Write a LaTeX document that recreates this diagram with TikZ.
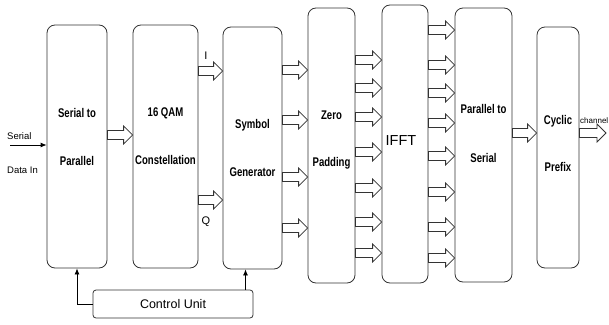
\documentclass[tikz,border=0pt]{standalone}
\usepackage{fontspec}
\setmainfont{Liberation Sans}
\newfontfamily\blockfont{Liberation Sans}[FakeStretch=0.76]
\usetikzlibrary{positioning, arrows.meta, calc}
\tikzset{
  block/.style={rectangle, rounded corners=8pt, draw=black!80, line width=0.8pt, inner sep=0pt},
  blocktext/.style={align=center, inner sep=0pt, font=\blockfont\bfseries\fontsize{12.6}{14}\selectfont},
  ctrl/.style={rectangle, rounded corners=3pt, draw=black!80, line width=0.8pt, font=\fontsize{12.5}{14}\selectfont},
  small/.style={font=\fontsize{9.5}{11}\selectfont, inner sep=1pt},
  hollow/.style={draw=black!80, line width=0.8pt, fill=white, line join=miter,
    to path={let \p1=(\tikztostart), \p2=(\tikztotarget) in
      ({\x1},{\y1+4.5pt}) -- ({\x2-9pt},{\y1+4.5pt}) -- ({\x2-9pt},{\y1+9pt}) -- ({\x2},{\y1})
      -- ({\x2-9pt},{\y1-9pt}) -- ({\x2-9pt},{\y1-4.5pt}) -- ({\x1},{\y1-4.5pt}) -- cycle}},
  arrow/.style={line width=0.8pt, -{Latex[length=6pt, width=5pt]}}
}
\begin{document}
\begin{tikzpicture}[x=1pt, y=-1pt]
    \useasboundingbox (0,0) rectangle (609,324);

    \node (sp) [block, minimum width=60pt, minimum height=243pt] at (77,146.5) {};
    \node (qam) [block, minimum width=65pt, minimum height=243pt] at (165.5,146.5) {};
    \node (sg) [block, minimum width=59pt, minimum height=242pt] at (252.5,148) {};
    \node (zp) [block, minimum width=47pt, minimum height=275pt] at (331.5,145.5) {};
    \node (ifft) [block, minimum width=46pt, minimum height=278pt] at (405,144) {};
    \node (ps) [block, minimum width=57pt, minimum height=274pt] at (483.5,145) {};
    \node (cp) [block, minimum width=42pt, minimum height=241pt] at (558,147.5) {};
    \node (cu) [ctrl, minimum width=160pt, minimum height=28pt] at (173,304) {Control Unit};

    % block texts
    \node (sptxt) [blocktext] at (77,137) {Serial to\\[34pt]Parallel};
    \node (qamtxt) [blocktext] at (165.5,136) {16 QAM\\[34pt]Constellation};
    \node (sgtxt) [blocktext] at (252.5,148) {Symbol\\[34pt]Generator};
    \node (zptxt) [blocktext] at (331.5,140) {Zero\\[33pt]Padding};
    \node (iffttxt) [blocktext, font=\fontsize{14.5}{16}\selectfont] at (401,141) {IFFT};
    \node (pstxt) [blocktext] at (483.5,133) {Parallel to\\[35pt]Serial};
    \node (cptxt) [blocktext] at (558,143) {Cyclic\\[33pt]Prefix};

    % input
    \coordinate (serin) at (10,145);
    \node (serlbl) [small, anchor=south west] at (6,141) {Serial};
    \node (datalbl) [small, anchor=west] at (6,170) {Data In};
    \draw [arrow] (serin) -- (serin -| sp.west);

    % hollow arrows
    \draw [hollow] (sp.east |- 0,135) to (qam.west |- 0,135);
    \draw [hollow] (qam.east |- 0,71) to (sg.west |- 0,71);
    \draw [hollow] (qam.east |- 0,200) to (sg.west |- 0,200);
    \node (ilbl) [small, font=\fontsize{11}{12}\selectfont] at (206,56) {I};
    \node (qlbl) [small, font=\fontsize{11}{12}\selectfont] at (206,222) {Q};
    \foreach \h in {70,120,177,228}
      \draw [hollow] (sg.east |- 0,\h) to (zp.west |- 0,\h);
    \foreach \h in {60,88,117,152,188,222,253}
      \draw [hollow] (zp.east |- 0,\h) to (ifft.west |- 0,\h);
    \foreach \h in {30,65,93,123,156,192,227,258}
      \draw [hollow] (ifft.east |- 0,\h) to (ps.west |- 0,\h);
    \draw [hollow] (ps.east |- 0,133) to (cp.west |- 0,133);
    \coordinate (chout) at (606,133);
    \draw [hollow] (cp.east |- chout) to (chout);
    \node (chlbl) [small, font=\fontsize{8}{10}\selectfont, anchor=south west] at (579,125) {channel};

    % control
    \draw [arrow] (cu.west) -| (sp.south);
    \draw [arrow] ([xshift=-7pt]sg.south |- cu.north) -- ([xshift=-7pt]sg.south);

\end{tikzpicture}
\end{document}
